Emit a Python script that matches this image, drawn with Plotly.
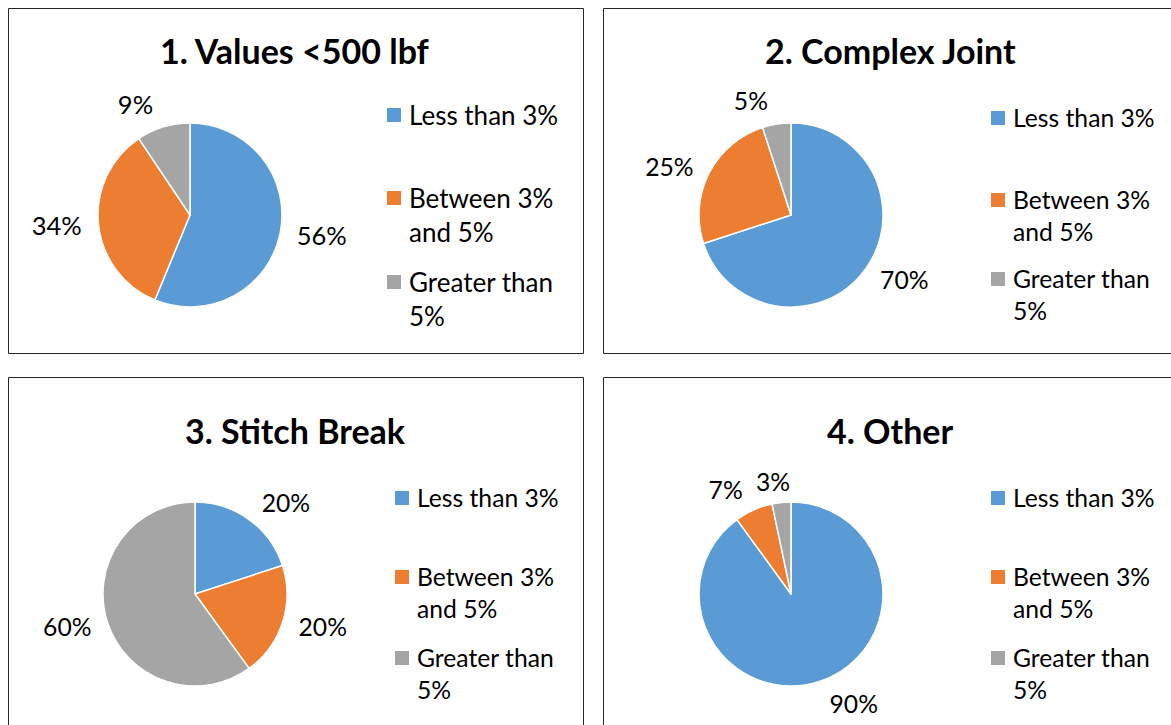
import plotly.graph_objects as go

W, H = 1171, 725

categories = ["Less than 3%", "Between 3% and 5%", "Greater than 5%"]
legend_labels = ["Less than 3%", "Between 3%<br>and 5%", "Greater than<br>5%"]
colors = ["#5B9BD5", "#ED7D31", "#A5A5A5"]

titles = ["1. Values <500 lbf", "2. Complex Joint", "3. Stitch Break", "4. Other"]
values_1 = [56.3, 34.4, 9.4]
values_2 = [70.0, 25.0, 5.0]
values_3 = [20.0, 20.0, 60.0]
values_4 = [90.0, 6.7, 3.3]
all_values = [values_1, values_2, values_3, values_4]

FONT = "Lato, Calibri, 'Noto Sans', sans-serif"

panels = [
    dict(box=(8.5, 8.5, 583.5, 353.5), pc=(190, 215), tc=(295, 50), lx=387, ly=[115, 198, 282],
         lfs=26, pfs=25.5, hide_small=False),
    dict(box=(603.5, 8.5, 1200, 353.5), pc=(791, 215), tc=(890, 50), lx=991, ly=[118, 200, 279],
         lfs=24.7, pfs=24.7, hide_small=False),
    dict(box=(8.5, 377.5, 583.5, 760), pc=(195, 594), tc=(295, 430), lx=395, ly=[498, 577, 658],
         lfs=24.7, pfs=24.7, hide_small=False),
    dict(box=(603.5, 377.5, 1200, 760), pc=(791, 594), tc=(890, 430), lx=991, ly=[498, 577, 658],
         lfs=24.7, pfs=24.7, hide_small=True, small_pos=(772.5, 481.5)),
]
R = 92
LABEL_PULL = 0.1  # labels sit a little further from the pie edge, as in the original

def px(x):
    return x / W

def py(y):
    return 1 - y / H

fig = go.Figure()
shapes = []
annotations = []

for i, p in enumerate(panels):
    cx, cy = p["pc"]
    dom = dict(x=[px(cx - R), px(cx + R)], y=[py(cy + R), py(cy - R)])
    RL = R * (1 + LABEL_PULL)
    dom_lbl = dict(x=[px(cx - RL), px(cx + RL)], y=[py(cy + RL), py(cy - RL)])
    label_font = dict(family=FONT, size=p["pfs"], color="#000000")
    # visible slices
    fig.add_trace(go.Pie(
        labels=categories,
        values=all_values[i],
        sort=False,
        direction="clockwise",
        rotation=0,
        marker=dict(colors=colors, line=dict(color="white", width=1.5)),
        textposition="none",
        automargin=False,
        showlegend=False,
        hoverinfo="label+percent",
        domain=dom,
    ))
    # data labels (same data, transparent slices, slightly pulled out)
    textpos = ["outside", "outside", "none"] if p["hide_small"] else "outside"
    fig.add_trace(go.Pie(
        labels=categories,
        values=all_values[i],
        sort=False,
        direction="clockwise",
        rotation=0,
        pull=LABEL_PULL,
        marker=dict(colors=["rgba(0,0,0,0)"] * 3, line=dict(width=0)),
        textposition=textpos,
        texttemplate="%{value:.0f}%",
        textfont=label_font,
        automargin=False,
        showlegend=False,
        hoverinfo="skip",
        domain=dom_lbl,
    ))
    if p["hide_small"]:
        # the smallest slice's label sits centred above it (no leader line)
        sx, sy = p["small_pos"]
        annotations.append(dict(text=f"{all_values[i][2]:.0f}%", xref="paper", yref="paper",
                                x=px(sx), y=py(sy), xanchor="center", yanchor="middle",
                                showarrow=False, font=label_font))
    x0, y0, x1, y1 = p["box"]
    shapes.append(dict(type="rect", xref="paper", yref="paper",
                       x0=px(x0), x1=px(x1), y0=py(y1), y1=py(y0),
                       line=dict(color="#262626", width=1), fillcolor="rgba(0,0,0,0)", layer="below"))
    tx, ty = p["tc"]
    annotations.append(dict(text="<b>" + titles[i] + "</b>", xref="paper", yref="paper",
                            x=px(tx), y=py(ty), xanchor="center", yanchor="middle",
                            showarrow=False, font=dict(family=FONT, size=34, color="#000000")))
    lx = p["lx"]
    for j in range(3):
        ly = p["ly"][j]
        shapes.append(dict(type="rect", xref="paper", yref="paper",
                           x0=px(lx), x1=px(lx + 14), y0=py(ly + 7), y1=py(ly - 7),
                           line=dict(width=0), fillcolor=colors[j]))
        annotations.append(dict(text=legend_labels[j], xref="paper", yref="paper",
                                x=px(lx + 20), y=py(ly - p["lfs"] * 0.69), xanchor="left", yanchor="top",
                                align="left", showarrow=False,
                                font=dict(family=FONT, size=p["lfs"], color="#000000")))

fig.update_layout(
    width=W, height=H, autosize=False,
    margin=dict(l=0, r=0, t=0, b=0, pad=0, autoexpand=False),
    paper_bgcolor="white", plot_bgcolor="white",
    shapes=shapes, annotations=annotations,
)

fig.write_html(
    "out.html",
    config={"displayModeBar": False, "displaylogo": False},
    post_script="document.body.style.margin='0';document.body.style.overflow='hidden';",
)
